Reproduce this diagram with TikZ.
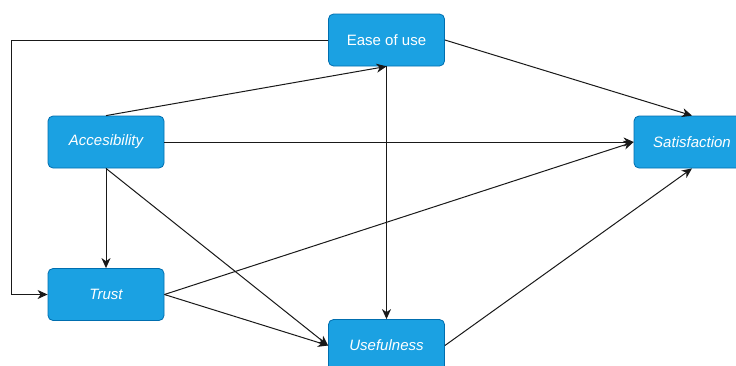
\documentclass[tikz,border=0pt]{standalone}
\usepackage{fontspec}
\setmainfont{Liberation Sans}
\usetikzlibrary{arrows.meta}
\definecolor{boxfill}{HTML}{1BA1E2}
\definecolor{boxline}{HTML}{006EAF}
\begin{document}
\begin{tikzpicture}[x=1pt,y=-1pt,
  box/.style={draw=boxline, fill=boxfill, rounded corners=5pt, minimum width=116pt,
    minimum height=52pt, inner sep=0pt, text=white, font=\fontsize{15}{18}\selectfont, line width=0.8pt},
  conn/.style={line width=1pt, draw=black!90, -{Stealth[length=10pt,width=9pt,inset=3pt]}}]
  \path[use as bounding box, fill=white] (0,0) rectangle (736,365);
  \clip (0,0) rectangle (736,365);
  \node[box] (ease) at (386.5,40) {Ease of use};
  \node[box] (acc) at (106,142) {\itshape Accesibility};
  \node[box] (sat) at (692,142) {\itshape Satisfaction};
  \node[box] (trust) at (106,294.5) {\itshape Trust};
  \node[box] (use) at (386.5,345.5) {\itshape Usefulness};
  \coordinate (lft) at (11,40);
  \draw[conn] (ease.west) -- (lft) |- (trust.west);
  \draw[conn] (acc.north) -- (ease.south);
  \draw[conn] (acc.east) -- (sat.west);
  \draw[conn] (acc.south) -- (trust.north);
  \draw[conn] (acc.south) -- (use.west);
  \draw[conn] (ease.south) -- (use.north);
  \draw[conn] (ease.east) -- (sat.north);
  \draw[conn] (trust.east) -- (sat.west);
  \draw[conn] (trust.east) -- (use.west);
  \draw[conn] (use.east) -- (sat.south);
\end{tikzpicture}
\end{document}
